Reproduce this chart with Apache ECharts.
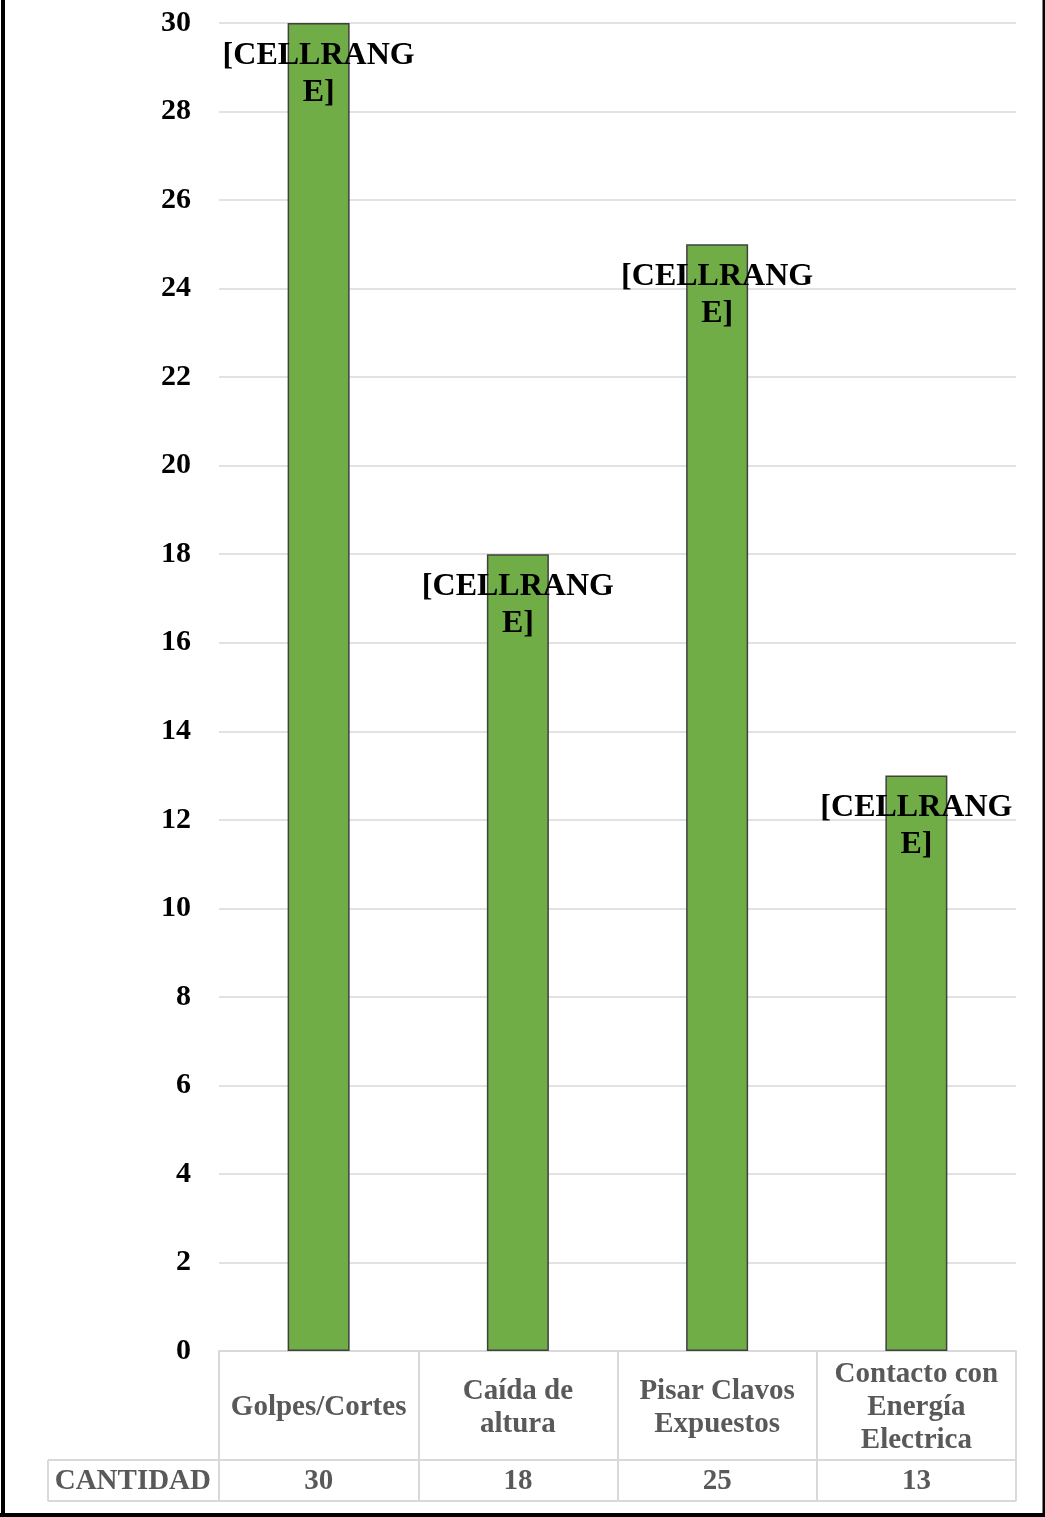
<!DOCTYPE html>
<html>
<head>
<meta charset="utf-8">
<script src="https://cdn.jsdelivr.net/npm/echarts@6/dist/echarts.min.js"></script>
<style>
html,body{margin:0;padding:0;background:#fff;}
#chart{width:1045px;height:1517px;}
</style>
</head>
<body>
<div id="chart"></div>
<script>
var categories = ['Golpes/Cortes', 'Caída de\naltura', 'Pisar Clavos\nExpuestos', 'Contacto con\nEnergía\nElectrica'];
var values = [30, 18, 25, 13];
var seriesName = 'CANTIDAD';
var dataLabelText = '[CELLRANG\nE]';
var yMin = 0, yMax = 30, yInterval = 2;

var FONT = '"Liberation Serif", "Times New Roman", serif';
var GRID = '#d9d9d9';

var chart = echarts.init(document.getElementById('chart'), null, {renderer: 'canvas'});
chart.setOption({
  backgroundColor: '#ffffff',
  animation: false,
  grid: {left: 219, right: 29, top: 23, bottom: 166, containLabel: false},
  yAxis: {
    type: 'value', min: yMin, max: yMax, interval: yInterval,
    axisLine: {show: false}, axisTick: {show: false},
    splitLine: {lineStyle: {color: GRID, width: 1.5}},
    axisLabel: {color: '#000', fontFamily: FONT, fontWeight: 'bold', fontSize: 30, margin: 28, padding: [9, 0, 0, 0]}
  },
  xAxis: [{
    type: 'category', data: categories, position: 'bottom',
    axisLine: {show: true, lineStyle: {color: GRID, width: 2}},
    axisTick: {show: true, length: 150, interval: 0, lineStyle: {color: GRID, width: 2}},
    axisLabel: {interval: 0, color: '#595959', fontFamily: FONT, fontWeight: 'bold', fontSize: 29,
      lineHeight: 33, margin: 57, verticalAlign: 'middle', align: 'center'}
  }, {
    type: 'category', data: categories, position: 'bottom', offset: 131,
    axisLine: {show: false}, axisTick: {show: false},
    axisLabel: {interval: 0, color: '#595959', fontFamily: FONT, fontWeight: 'bold', fontSize: 29,
      margin: 0, verticalAlign: 'middle',
      formatter: function (v, i) { return String(values[i]); }},
    name: seriesName, nameLocation: 'start', nameGap: 8,
    nameTextStyle: {color: '#595959', fontFamily: FONT, fontWeight: 'bold', fontSize: 29, verticalAlign: 'middle', align: 'right'}
  }],
  series: [{
    type: 'bar', name: seriesName, data: values, xAxisIndex: 0, barWidth: 62,
    itemStyle: {color: '#70ad47', borderColor: '#404040', borderWidth: 1.5},
    label: {show: true, position: 'insideTop', distance: 14, formatter: function () { return dataLabelText; },
      color: '#000', fontFamily: FONT, fontWeight: 'bold', fontSize: 32, lineHeight: 37, align: 'center'}
  }],
  graphic: [
    {type: 'line', shape: {x1: 48, y1: 1460, x2: 1016, y2: 1460}, style: {stroke: GRID, lineWidth: 2}},
    {type: 'line', shape: {x1: 48, y1: 1501, x2: 1016, y2: 1501}, style: {stroke: GRID, lineWidth: 2}},
    {type: 'line', shape: {x1: 48, y1: 1460, x2: 48, y2: 1501}, style: {stroke: GRID, lineWidth: 2}},
    {type: 'line', shape: {x1: 3, y1: 0, x2: 3, y2: 1517}, style: {stroke: '#000', lineWidth: 4}},
    {type: 'line', shape: {x1: 1044, y1: 0, x2: 1044, y2: 1517}, style: {stroke: '#000', lineWidth: 3}},
    {type: 'line', shape: {x1: 0, y1: 1515, x2: 1045, y2: 1515}, style: {stroke: '#000', lineWidth: 4}}
  ]
});
</script>
</body>
</html>
